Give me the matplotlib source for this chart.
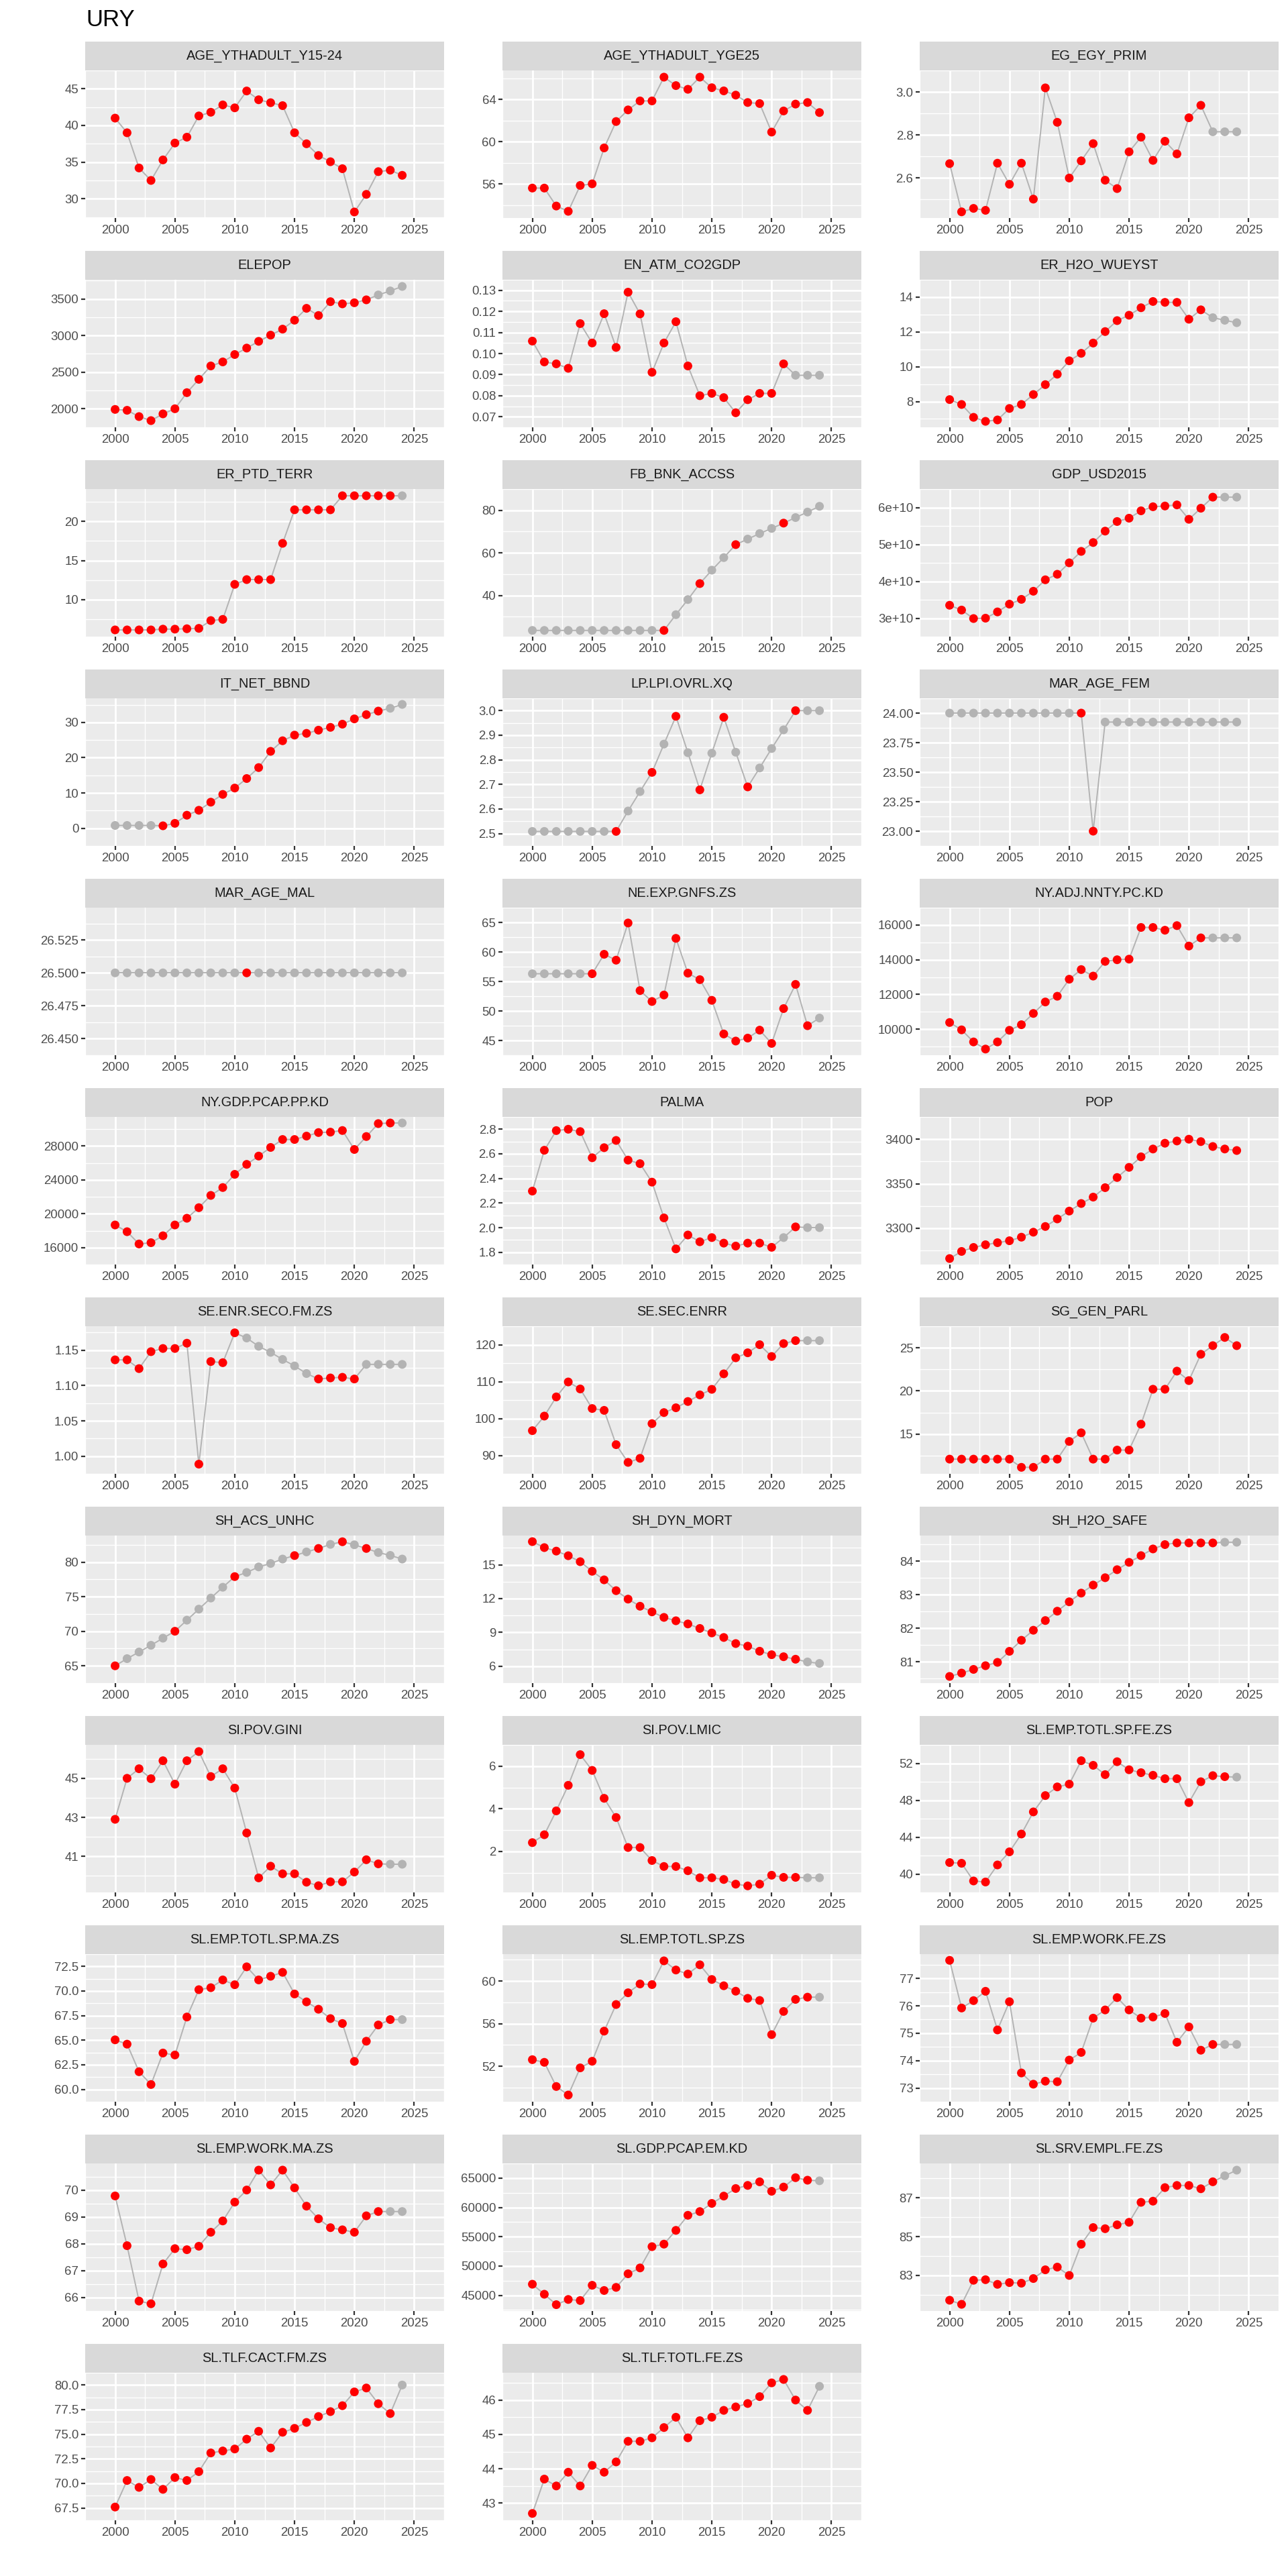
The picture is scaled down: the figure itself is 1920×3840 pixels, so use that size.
import numpy as np
import matplotlib.pyplot as plt

plt.rcParams['font.family'] = ['Liberation Sans', 'DejaVu Sans']

years = np.arange(2000, 2025)
country = 'URY'

# values per indicator, 2000-2024; *_est lists the years that are filled / estimated
age_y15_24 = [41.0, 39.0, 34.2, 32.5, 35.3, 37.6, 38.4, 41.3, 41.8, 42.8, 42.4, 44.7, 43.5,
              43.1, 42.7, 39.0, 37.5, 35.9, 35.05, 34.1, 28.2, 30.6, 33.7, 33.9, 33.2]
age_y15_24_est = []
age_yge25 = [55.6, 55.6, 53.9, 53.4, 55.85, 56.0, 59.4, 61.9, 63.0, 63.85, 63.85, 66.1, 65.3,
             64.95, 66.1, 65.1, 64.8, 64.4, 63.7, 63.6, 60.9, 62.9, 63.55, 63.7, 62.75]
age_yge25_est = []
egy_prim = [2.667, 2.443, 2.459, 2.45, 2.669, 2.571, 2.669, 2.502, 3.019, 2.859, 2.6, 2.68, 2.76,
            2.59, 2.551, 2.722, 2.79, 2.682, 2.771, 2.712, 2.88, 2.938, 2.815, 2.815, 2.815]
egy_prim_est = [2022, 2023, 2024]
elepop = [1991, 1979, 1893, 1838, 1930, 2000, 2220, 2402, 2585, 2640, 2741, 2829, 2921,
          3006, 3088, 3210, 3372, 3274, 3463, 3433, 3448, 3488, 3555, 3610, 3671]
elepop_est = [2022, 2023, 2024]
co2gdp = [0.1059, 0.0960, 0.0951, 0.0930, 0.1142, 0.1050, 0.1189, 0.1029, 0.1291, 0.1188, 0.0911,
          0.1050, 0.1151, 0.0941, 0.0800, 0.0811, 0.0791, 0.0719, 0.0781, 0.0811, 0.0811, 0.0951,
          0.0897, 0.0897, 0.0897]
co2gdp_est = [2022, 2023, 2024]
h2o_wueyst = [8.11, 7.83, 7.09, 6.86, 6.94, 7.6, 7.83, 8.4, 8.97, 9.57, 10.34, 10.77, 11.36,
              12.02, 12.65, 12.96, 13.39, 13.75, 13.7, 13.7, 12.73, 13.27, 12.82, 12.67, 12.53]
h2o_wueyst_est = [2022, 2023, 2024]
ptd_terr = [6.1, 6.1, 6.1, 6.1, 6.2, 6.2, 6.25, 6.3, 7.3, 7.45, 11.94, 12.55, 12.55, 12.55, 17.2,
            21.5, 21.5, 21.5, 21.5, 23.3, 23.3, 23.3, 23.3, 23.3, 23.3]
ptd_terr_est = [2024]
bnk_accss = [23.6, 23.6, 23.6, 23.6, 23.6, 23.6, 23.6, 23.6, 23.6, 23.6, 23.6, 23.6, 31.0, 38.1,
             45.6, 51.9, 57.8, 63.9, 66.5, 69.1, 71.5, 74.0, 76.6, 79.2, 81.9]
bnk_accss_est = [2000, 2001, 2002, 2003, 2004, 2005, 2006, 2007, 2008, 2009, 2010, 2012, 2013,
                 2015, 2016, 2018, 2019, 2020, 2022, 2023, 2024]
gdp_usd2015 = [3.35e10, 3.22e10, 2.99e10, 3.0e10, 3.17e10, 3.38e10, 3.51e10, 3.73e10, 4.04e10,
               4.19e10, 4.50e10, 4.81e10, 5.05e10, 5.36e10, 5.62e10, 5.71e10, 5.91e10, 6.02e10,
               6.04e10, 6.07e10, 5.68e10, 5.98e10, 6.28e10, 6.28e10, 6.28e10]
gdp_usd2015_est = [2023, 2024]
net_bbnd = [0.8, 0.8, 0.8, 0.8, 0.7, 1.4, 3.7, 5.1, 7.4, 9.6, 11.4, 14.1, 17.2, 21.8, 24.8,
            26.4, 26.9, 27.8, 28.6, 29.5, 31.0, 32.2, 33.2, 34.0, 35.1]
net_bbnd_est = [2000, 2001, 2002, 2003, 2023, 2024]
lpi = [2.509, 2.509, 2.509, 2.509, 2.509, 2.509, 2.509, 2.509, 2.592, 2.671, 2.749, 2.864, 2.977,
       2.829, 2.678, 2.827, 2.973, 2.831, 2.690, 2.767, 2.846, 2.922, 3.0, 3.0, 3.0]
lpi_est = [2000, 2001, 2002, 2003, 2004, 2005, 2006, 2008, 2009, 2011, 2013, 2015, 2017,
           2019, 2020, 2021, 2023, 2024]
mar_age_fem = [24.0, 24.0, 24.0, 24.0, 24.0, 24.0, 24.0, 24.0, 24.0, 24.0, 24.0, 24.0, 23.0,
               23.924, 23.924, 23.924, 23.924, 23.924, 23.924, 23.924, 23.924, 23.924, 23.924,
               23.924, 23.924]
mar_age_fem_est = [y for y in range(2000, 2025) if y not in (2011, 2012)]
mar_age_mal = [26.5, 26.5, 26.5, 26.5, 26.5, 26.5, 26.5, 26.5, 26.5, 26.5, 26.5, 26.5, 26.5,
               26.5, 26.5, 26.5, 26.5, 26.5, 26.5, 26.5, 26.5, 26.5, 26.5, 26.5, 26.5]
mar_age_mal_est = [y for y in range(2000, 2025) if y != 2011]
exp_gnfs = [56.3, 56.3, 56.3, 56.3, 56.3, 56.3, 59.6, 58.6, 64.9, 53.45, 51.6, 52.7, 62.3, 56.4,
            55.3, 51.8, 46.1, 44.9, 45.4, 46.75, 44.5, 50.4, 54.5, 47.5, 48.8]
exp_gnfs_est = [2000, 2001, 2002, 2003, 2004, 2024]
adj_nnty = [10388, 9965, 9270, 8860, 9270, 9940, 10260, 10910, 11570, 11900, 12880, 13435, 13060,
            13905, 14000, 14035, 15860, 15860, 15700, 15965, 14790, 15260, 15260, 15260, 15260]
adj_nnty_est = [2022, 2023, 2024]
gdp_pcap_pp = [18675, 17880, 16430, 16580, 17400, 18675, 19470, 20720, 22170, 23100, 24660, 25840,
               26820, 27840, 28780, 28780, 29180, 29600, 29650, 29840, 27600, 29130, 30660, 30730,
               30730]
gdp_pcap_pp_est = [2024]
palma = [2.297, 2.629, 2.789, 2.8, 2.781, 2.568, 2.65, 2.709, 2.549, 2.52, 2.37, 2.079, 1.827,
         1.94, 1.885, 1.919, 1.874, 1.85, 1.874, 1.874, 1.84, 1.919, 2.006, 2.0, 2.0]
palma_est = [2021, 2023, 2024]
pop = [3266, 3274, 3278.5, 3281.5, 3283.8, 3286, 3290, 3295.6, 3302, 3310.5, 3319.3, 3327.8, 3335,
       3345.6, 3357, 3368.4, 3380.2, 3389, 3395.5, 3398, 3400, 3397.3, 3391.8, 3389, 3387.3]
pop_est = []
enr_seco_fm = [1.1364, 1.1364, 1.124, 1.148, 1.1525, 1.1525, 1.160, 0.9887, 1.134, 1.1324, 1.1747,
               1.1673, 1.1556, 1.147, 1.137, 1.1278, 1.117, 1.1093, 1.1108, 1.1117, 1.1093, 1.13,
               1.13, 1.13, 1.13]
enr_seco_fm_est = [2011, 2012, 2013, 2014, 2015, 2016, 2021, 2022, 2023, 2024]
sec_enrr = [96.7, 100.65, 105.85, 109.9, 108.0, 102.7, 102.2, 92.9, 88.1, 89.2, 98.6, 101.6, 102.9,
            104.6, 106.4, 107.9, 112.1, 116.45, 117.8, 120.0, 116.8, 120.3, 121.1, 121.1, 121.1]
sec_enrr_est = [2023, 2024]
gen_parl = [12.1, 12.1, 12.1, 12.1, 12.1, 12.1, 11.15, 11.15, 12.1, 12.1, 14.15, 15.15, 12.1, 12.1,
            13.15, 13.15, 16.15, 20.2, 20.2, 22.3, 21.2, 24.25, 25.25, 26.2, 25.25]
gen_parl_est = []
acs_unhc = [65.0, 66.04, 67.0, 67.97, 69.0, 70.0, 71.6, 73.2, 74.8, 76.36, 77.9, 78.5, 79.3, 79.8,
            80.44, 80.94, 81.47, 81.97, 82.56, 82.94, 82.5, 81.97, 81.38, 80.97, 80.44]
acs_unhc_est = [y for y in range(2000, 2025) if y not in (2000, 2005, 2010, 2015, 2017, 2019, 2021)]
dyn_mort = [17.05, 16.52, 16.21, 15.8, 15.27, 14.42, 13.66, 12.7, 11.95, 11.32, 10.82, 10.33, 10.03,
            9.75, 9.35, 8.95, 8.55, 8.01, 7.78, 7.33, 7.02, 6.84, 6.62, 6.38, 6.25]
dyn_mort_est = [2023, 2024]
h2o_safe = [80.56, 80.66, 80.77, 80.88, 80.98, 81.31, 81.64, 81.94, 82.23, 82.51, 82.79, 83.05,
            83.29, 83.51, 83.75, 83.97, 84.17, 84.37, 84.5, 84.55, 84.55, 84.55, 84.55, 84.57, 84.57]
h2o_safe_est = [2023, 2024]
gini = [42.9, 45.0, 45.49, 44.98, 45.9, 44.7, 45.9, 46.37, 45.09, 45.49, 44.5, 42.2, 39.9, 40.5,
        40.11, 40.11, 39.68, 39.5, 39.7, 39.7, 40.2, 40.83, 40.62, 40.6, 40.6]
gini_est = [2023, 2024]
lmic = [2.41, 2.78, 3.9, 5.1, 6.54, 5.8, 4.49, 3.59, 2.18, 2.18, 1.57, 1.29, 1.29, 1.09, 0.76,
        0.76, 0.68, 0.46, 0.38, 0.46, 0.88, 0.78, 0.78, 0.76, 0.76]
lmic_est = [2023, 2024]
emp_fe = [41.24, 41.16, 39.24, 39.13, 40.98, 42.4, 44.33, 46.73, 48.5, 49.44, 49.74, 52.28, 51.78,
          50.77, 52.17, 51.3, 50.98, 50.7, 50.33, 50.33, 47.74, 50.0, 50.66, 50.55, 50.5]
emp_fe_est = [2024]
emp_ma = [65.04, 64.6, 61.8, 60.5, 63.7, 63.5, 67.36, 70.14, 70.34, 71.13, 70.64, 72.46, 71.13,
          71.5, 71.9, 69.7, 68.9, 68.15, 67.2, 66.7, 62.85, 64.9, 66.55, 67.1, 67.1]
emp_ma_est = [2024]
emp_totl = [52.62, 52.37, 50.1, 49.3, 51.85, 52.47, 55.3, 57.8, 58.9, 59.73, 59.67, 61.9, 61.04,
            60.66, 61.53, 60.15, 59.56, 59.05, 58.38, 58.18, 54.97, 57.15, 58.28, 58.49, 58.49]
emp_totl_est = [2024]
work_fe = [77.66, 75.92, 76.19, 76.53, 75.12, 76.15, 73.55, 73.14, 73.25, 73.23, 74.02, 74.3, 75.55,
           75.85, 76.3, 75.85, 75.55, 75.59, 75.72, 74.67, 75.23, 74.38, 74.59, 74.59, 74.59]
work_fe_est = [2023, 2024]
work_ma = [69.78, 67.93, 65.87, 65.77, 67.25, 67.82, 67.78, 67.91, 68.43, 68.85, 69.55, 70.0, 70.74,
           70.19, 70.74, 70.08, 69.4, 68.93, 68.6, 68.52, 68.43, 69.04, 69.2, 69.2, 69.2]
work_ma_est = [2023, 2024]
gdp_pcap_em = [46890, 45180, 43400, 44290, 44110, 46710, 45820, 46350, 48670, 49670, 53300, 53730,
               56080, 58650, 59290, 60680, 61930, 63220, 63750, 64360, 62750, 63470, 65070, 64640,
               64540]
gdp_pcap_em_est = [2024]
srv_empl_fe = [81.72, 81.51, 82.75, 82.78, 82.54, 82.63, 82.6, 82.84, 83.29, 83.43, 83.0, 84.61,
               85.47, 85.41, 85.61, 85.74, 86.77, 86.83, 87.53, 87.64, 87.64, 87.47, 87.83, 88.14,
               88.43]
srv_empl_fe_est = [2023, 2024]
tlf_cact_fm = [67.6, 70.3, 69.6, 70.4, 69.4, 70.6, 70.3, 71.2, 73.1, 73.3, 73.5, 74.5, 75.3, 73.6,
               75.2, 75.6, 76.2, 76.8, 77.3, 77.9, 79.3, 79.7, 78.1, 77.1, 80.0]
tlf_cact_fm_est = [2024]
tlf_totl_fe = [42.7, 43.7, 43.5, 43.9, 43.5, 44.1, 43.9, 44.2, 44.8, 44.8, 44.9, 45.2, 45.5, 44.9,
               45.4, 45.5, 45.7, 45.8, 45.9, 46.1, 46.5, 46.6, 46.0, 45.7, 46.4]
tlf_totl_fe_est = [2024]

# facet label, values, estimated years, y breaks
panels = [
    ('AGE_YTHADULT_Y15-24', age_y15_24, age_y15_24_est, [30, 35, 40, 45]),
    ('AGE_YTHADULT_YGE25', age_yge25, age_yge25_est, [56, 60, 64]),
    ('EG_EGY_PRIM', egy_prim, egy_prim_est, [2.6, 2.8, 3.0]),
    ('ELEPOP', elepop, elepop_est, [2000, 2500, 3000, 3500]),
    ('EN_ATM_CO2GDP', co2gdp, co2gdp_est, [0.07, 0.08, 0.09, 0.10, 0.11, 0.12, 0.13]),
    ('ER_H2O_WUEYST', h2o_wueyst, h2o_wueyst_est, [8, 10, 12, 14]),
    ('ER_PTD_TERR', ptd_terr, ptd_terr_est, [10, 15, 20]),
    ('FB_BNK_ACCSS', bnk_accss, bnk_accss_est, [40, 60, 80]),
    ('GDP_USD2015', gdp_usd2015, gdp_usd2015_est, [3e10, 4e10, 5e10, 6e10]),
    ('IT_NET_BBND', net_bbnd, net_bbnd_est, [0, 10, 20, 30]),
    ('LP.LPI.OVRL.XQ', lpi, lpi_est, [2.5, 2.6, 2.7, 2.8, 2.9, 3.0]),
    ('MAR_AGE_FEM', mar_age_fem, mar_age_fem_est, [23.0, 23.25, 23.5, 23.75, 24.0]),
    ('MAR_AGE_MAL', mar_age_mal, mar_age_mal_est, [26.45, 26.475, 26.5, 26.525]),
    ('NE.EXP.GNFS.ZS', exp_gnfs, exp_gnfs_est, [45, 50, 55, 60, 65]),
    ('NY.ADJ.NNTY.PC.KD', adj_nnty, adj_nnty_est, [10000, 12000, 14000, 16000]),
    ('NY.GDP.PCAP.PP.KD', gdp_pcap_pp, gdp_pcap_pp_est, [16000, 20000, 24000, 28000]),
    ('PALMA', palma, palma_est, [1.8, 2.0, 2.2, 2.4, 2.6, 2.8]),
    ('POP', pop, pop_est, [3300, 3350, 3400]),
    ('SE.ENR.SECO.FM.ZS', enr_seco_fm, enr_seco_fm_est, [1.0, 1.05, 1.1, 1.15]),
    ('SE.SEC.ENRR', sec_enrr, sec_enrr_est, [90, 100, 110, 120]),
    ('SG_GEN_PARL', gen_parl, gen_parl_est, [15, 20, 25]),
    ('SH_ACS_UNHC', acs_unhc, acs_unhc_est, [65, 70, 75, 80]),
    ('SH_DYN_MORT', dyn_mort, dyn_mort_est, [6, 9, 12, 15]),
    ('SH_H2O_SAFE', h2o_safe, h2o_safe_est, [81, 82, 83, 84]),
    ('SI.POV.GINI', gini, gini_est, [41, 43, 45]),
    ('SI.POV.LMIC', lmic, lmic_est, [2, 4, 6]),
    ('SL.EMP.TOTL.SP.FE.ZS', emp_fe, emp_fe_est, [40, 44, 48, 52]),
    ('SL.EMP.TOTL.SP.MA.ZS', emp_ma, emp_ma_est, [60.0, 62.5, 65.0, 67.5, 70.0, 72.5]),
    ('SL.EMP.TOTL.SP.ZS', emp_totl, emp_totl_est, [52, 56, 60]),
    ('SL.EMP.WORK.FE.ZS', work_fe, work_fe_est, [73, 74, 75, 76, 77]),
    ('SL.EMP.WORK.MA.ZS', work_ma, work_ma_est, [66, 67, 68, 69, 70]),
    ('SL.GDP.PCAP.EM.KD', gdp_pcap_em, gdp_pcap_em_est, [45000, 50000, 55000, 60000, 65000]),
    ('SL.SRV.EMPL.FE.ZS', srv_empl_fe, srv_empl_fe_est, [83, 85, 87]),
    ('SL.TLF.CACT.FM.ZS', tlf_cact_fm, tlf_cact_fm_est, [67.5, 70.0, 72.5, 75.0, 77.5, 80.0]),
    ('SL.TLF.TOTL.FE.ZS', tlf_totl_fe, tlf_totl_fe_est, [43, 44, 45, 46]),
]
x_breaks = [2000, 2005, 2010, 2015, 2020, 2025]


def tick_labels(ticks):
    """Format breaks like ggplot: same number of decimals, sci notation for huge values."""
    if max(abs(t) for t in ticks) >= 1e9:
        return [f'{t:.0e}' for t in ticks]
    dec = 0
    for t in ticks:
        s = f'{t:.6f}'.rstrip('0').rstrip('.')
        if '.' in s:
            dec = max(dec, len(s.split('.')[1]))
    return [f'{t:.{dec}f}' for t in ticks]


def minor_breaks(ticks):
    t = np.asarray(ticks, dtype=float)
    step = t[1] - t[0]
    return np.concatenate([[t[0] - step / 2], (t[:-1] + t[1:]) / 2, [t[-1] + step / 2]])


W, H = 1920, 3840
fig = plt.figure(figsize=(W / 200, H / 200), dpi=200)
fig.text(128 / W, 1 - 39 / H, country, fontsize=12.5, color='black', va='baseline', ha='left')

col_x = [127, 749, 1371]
panel_w, strip_h, plot_h = 535, 43, 220
row_pitch, first_top = 312, 62

for i, (name, vals, est, ticks) in enumerate(panels):
    r, c = divmod(i, 3)
    top = first_top + r * row_pitch
    x0 = col_x[c]

    sax = fig.add_axes([x0 / W, 1 - (top + strip_h) / H, panel_w / W, strip_h / H])
    sax.set_facecolor('#D9D9D9')
    sax.set_xticks([])
    sax.set_yticks([])
    for sp in sax.spines.values():
        sp.set_visible(False)
    sax.text(0.5, 0.5, name, ha='center', va='center', fontsize=7.2, color='#1A1A1A',
             transform=sax.transAxes)

    ax = fig.add_axes([x0 / W, 1 - (top + strip_h + plot_h) / H, panel_w / W, plot_h / H])
    ax.set_facecolor('#EBEBEB')
    for sp in ax.spines.values():
        sp.set_visible(False)

    v = np.asarray(vals, dtype=float)
    colors = ['#B3B3B3' if y in est else '#FF0000' for y in years]
    ax.plot(years, v, color='#B3B3B3', lw=0.7, zorder=2)
    ax.scatter(years, v, s=22, c=colors, edgecolors='none', zorder=3)

    lo, hi = v.min(), v.max()
    if hi - lo == 0:
        ax.set_ylim(lo - 0.0505, hi + 0.0495)
    else:
        pad = 0.05 * (hi - lo)
        ax.set_ylim(lo - pad, hi + pad)
    ax.set_xlim(2000 - 1.2, 2024 + 1.2)

    ax.set_yticks(ticks)
    ax.set_yticklabels(tick_labels(ticks))
    ax.set_yticks(minor_breaks(ticks), minor=True)
    ax.set_xticks(x_breaks)
    ax.set_xticklabels([str(x) for x in x_breaks])
    ax.set_xticks(minor_breaks(x_breaks), minor=True)

    ax.grid(which='major', color='white', lw=1.0)
    ax.grid(which='minor', color='white', lw=0.5)
    ax.set_axisbelow(True)
    ax.tick_params(which='major', length=2.0, width=0.8, color='#333333',
                   labelcolor='#4D4D4D', labelsize=6.7, pad=1.5)
    ax.tick_params(which='minor', length=0)

fig.savefig('out.png', dpi=200, facecolor='white')
